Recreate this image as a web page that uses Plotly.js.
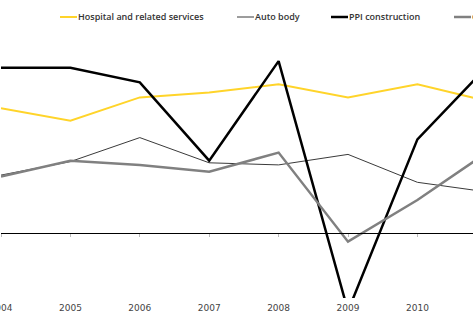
<!DOCTYPE html>
<html>
<head>
<meta charset="utf-8">
<script src="https://cdn.plot.ly/plotly-3.0.1.min.js"></script>
<style>
html,body{margin:0;padding:0;background:#fff;overflow:hidden;width:473px;height:313px;}
#chart{position:absolute;left:0;top:0;width:560px;height:313px;}
</style>
</head>
<body>
<div id="chart"></div>
<script>
var years = [2004, 2005, 2006, 2007, 2008, 2009, 2010, 2011];
var tickLabels = ['2004','2005','2006','2007','2008','2009','2010','2011'];
var seriesNames = ['Hospital and related services', 'Auto body', 'PPI construction', 'Other'];
var hospital = [4.16, 3.74, 4.52, 4.68, 4.96, 4.52, 4.96, 4.40];
var autoBody = [1.93, 2.38, 3.18, 2.34, 2.27, 2.62, 1.69, 1.37];
var ppiConstruction = [5.51, 5.51, 5.02, 2.41, 5.73, -2.60, 3.12, 5.54];
var other = [1.88, 2.41, 2.27, 2.04, 2.68, -0.29, 1.10, 2.68];

var W = 560, H = 313, ML = 1, MB = 15;
var pxPerYear = 69.4;
var yRange = [-2.167, 7.767];
var zeroPos = (0 - yRange[0]) / (yRange[1] - yRange[0]);
var xr = [2004, 2004 + (W - ML) / pxPerYear];

var styles = [
  {color: '#FFD42A', width: 2},
  {color: '#3a3a3a', width: 1},
  {color: '#000000', width: 2.5},
  {color: '#808080', width: 2.5}
];
var seriesData = [hospital, autoBody, ppiConstruction, other];

var traces = seriesData.map(function (d, i) {
  return {x: years, y: d, name: seriesNames[i], type: 'scatter', mode: 'lines',
          line: {color: styles[i].color, width: styles[i].width}, hoverinfo: 'skip', showlegend: false};
});
traces.push({x: years, y: hospital, xaxis: 'x2', yaxis: 'y', type: 'scatter', mode: 'lines',
  line: {width: 0}, showlegend: false, hoverinfo: 'skip', opacity: 0});

// hand-placed legend (text start pixel of each entry)
var legendTextStart = [78, 255, 349, 472];
var legendYpx = 17;
var plotW = W - ML, plotH = H - MB;
function px2paperX(px) { return (px - ML) / plotW; }
var legY = 1 - legendYpx / plotH;
var annotations = [], shapes = [];
seriesNames.forEach(function (n, i) {
  annotations.push({text: n, xref: 'paper', yref: 'paper', x: px2paperX(legendTextStart[i]), y: legY,
    xanchor: 'left', yanchor: 'middle', showarrow: false, xshift: -2,
    font: {family: 'Open Sans', size: 9, color: '#333', weight: 600}});
  shapes.push({type: 'line', xref: 'paper', yref: 'paper',
    x0: px2paperX(legendTextStart[i] - 18), x1: px2paperX(legendTextStart[i] - 1), y0: legY, y1: legY,
    line: {color: styles[i].color, width: styles[i].width}});
});

var layout = {
  width: W, height: H,
  margin: {l: ML, r: 0, t: 0, b: MB},
  paper_bgcolor: '#fff', plot_bgcolor: '#fff',
  showlegend: false,
  annotations: annotations, shapes: shapes,
  xaxis: {range: xr, tickvals: years, ticktext: tickLabels, showgrid: false, zeroline: false,
          showline: false, ticks: '', ticklabeloverflow: 'allow', ticklabelstandoff: 3,
          tickfont: {family: 'DejaVu Sans', size: 9, color: '#444'}},
  xaxis2: {range: xr, overlaying: 'x', anchor: 'free', position: zeroPos, tickvals: years,
           showticklabels: false, showgrid: false, zeroline: false, showline: true,
           linecolor: '#000', linewidth: 1.5, ticks: 'outside', ticklen: 3, tickcolor: '#bbb', tickwidth: 1},
  yaxis: {range: yRange, showgrid: false, zeroline: false, showline: false, showticklabels: false, ticks: ''}
};
Plotly.newPlot('chart', traces, layout, {staticPlot: true, displayModeBar: false});
</script>
</body>
</html>
